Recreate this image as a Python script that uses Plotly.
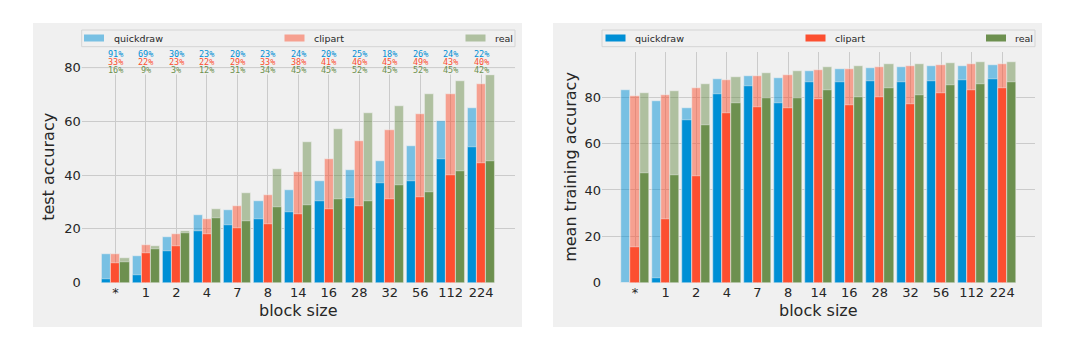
import plotly.graph_objects as go

# block sizes on the x axis
block_sizes = ['*', '1', '2', '4', '7', '8', '14', '16', '28', '32', '56', '112', '224']
domains = ['quickdraw', 'clipart', 'real']

# left panel: test accuracy (light = upper bar, dark = lower bar)
test_quickdraw_hi = [10.8, 9.8, 16.9, 25.2, 26.9, 30.5, 34.5, 37.9, 41.9, 45.1, 50.8, 60.1, 64.8]
test_quickdraw_lo = [1.4, 3.0, 11.9, 19.3, 21.4, 23.7, 26.3, 30.5, 31.6, 37.0, 37.7, 45.9, 50.6]
test_clipart_hi = [10.8, 14.0, 18.0, 23.7, 28.4, 32.6, 41.2, 45.9, 52.7, 56.7, 62.7, 70.1, 73.8]
test_clipart_lo = [7.3, 11.2, 13.6, 18.2, 20.4, 21.8, 25.5, 27.3, 28.4, 31.1, 31.9, 39.9, 44.5]
test_real_hi = [9.1, 13.5, 19.1, 27.3, 33.3, 42.3, 52.2, 57.0, 63.3, 65.8, 70.1, 74.9, 77.2]
test_real_lo = [7.7, 12.6, 18.4, 24.1, 23.0, 28.0, 29.0, 31.1, 30.5, 36.2, 33.7, 41.5, 45.1]

# percentage labels above the left panel
pct_quickdraw = [91, 69, 30, 23, 20, 23, 24, 20, 25, 18, 26, 24, 22]
pct_clipart = [33, 22, 23, 22, 29, 33, 38, 41, 46, 45, 49, 43, 40]
pct_real = [16, 9, 3, 12, 31, 34, 45, 45, 52, 45, 52, 45, 42]

# right panel: mean training accuracy
train_quickdraw_hi = [83.0, 78.4, 75.5, 87.9, 89.2, 88.5, 91.3, 92.2, 92.6, 93.1, 93.5, 93.5, 93.9]
train_quickdraw_lo = [0.0, 2.2, 70.2, 81.4, 84.7, 77.7, 86.5, 86.5, 86.9, 86.5, 87.2, 87.6, 88.0]
train_clipart_hi = [80.6, 80.9, 83.9, 87.6, 89.2, 89.6, 91.8, 92.2, 93.1, 93.5, 93.9, 94.4, 94.4]
train_clipart_lo = [15.4, 27.5, 46.2, 73.1, 75.9, 75.5, 79.4, 76.8, 80.1, 77.1, 81.9, 83.2, 83.9]
train_real_hi = [81.7, 82.7, 85.6, 88.8, 90.5, 91.3, 93.1, 93.5, 94.4, 94.4, 94.8, 95.1, 95.1]
train_real_lo = [47.3, 46.5, 68.0, 77.7, 79.7, 79.7, 83.2, 80.1, 83.9, 81.0, 85.2, 85.6, 86.5]

colors = ['#008fd5', '#fc4f30', '#6d904f']
light = ['rgba(0,143,213,0.5)', 'rgba(252,79,48,0.5)', 'rgba(109,144,79,0.5)']
BG = '#f0f0f0'
GRID = '#cbcbcb'
TXT = '#262626'
W, H = 1080, 343


def px(x):
    return x / W


def py(y):
    return 1 - y / H


idx = list(range(len(block_sizes)))
offsets = [-0.3, 0.0, 0.3]

fig = go.Figure()

panels = [
    ('x', 'y', [test_quickdraw_hi, test_clipart_hi, test_real_hi],
     [test_quickdraw_lo, test_clipart_lo, test_real_lo]),
    ('x2', 'y2', [train_quickdraw_hi, train_clipart_hi, train_real_hi],
     [train_quickdraw_lo, train_clipart_lo, train_real_lo]),
]

for xa, ya, his, los in panels:
    for k in range(3):
        xs = [i + offsets[k] for i in idx]
        fig.add_trace(go.Bar(x=xs, y=his[k], width=0.3, xaxis=xa, yaxis=ya,
                             marker=dict(color=light[k], line=dict(color=BG, width=0.5)),
                             name=domains[k], showlegend=False))
        fig.add_trace(go.Bar(x=xs, y=los[k], width=0.3, xaxis=xa, yaxis=ya,
                             marker=dict(color=colors[k], line=dict(color=BG, width=0.5)),
                             name=domains[k], showlegend=False))

LEFT_X = (81.7, 515)
RIGHT_X = (602, 1035)
Y_BOT, Y_TOP = 282.7, 52

# panel backgrounds
shapes = [
    dict(type='rect', xref='paper', yref='paper', x0=px(33), x1=px(522), y0=py(327), y1=py(23),
         fillcolor=BG, line=dict(width=0), layer='below'),
    dict(type='rect', xref='paper', yref='paper', x0=px(553), x1=px(1042), y0=py(327), y1=py(23),
         fillcolor=BG, line=dict(width=0), layer='below'),
    # band behind the percentage labels hides the vertical grid, then the 80 gridline again
    dict(type='rect', xref='paper', yref='paper', x0=px(LEFT_X[0]), x1=px(LEFT_X[1]),
         y0=py(74.5), y1=py(50), fillcolor=BG, line=dict(width=0), layer='above'),
    dict(type='line', xref='paper', yref='y', x0=px(LEFT_X[0]), x1=px(LEFT_X[1]),
         y0=80, y1=80, line=dict(color=GRID, width=1), layer='above'),
]
annotations = []

# hand-made legends (matplotlib style, expanded over the axes)
legends = [
    (LEFT_X, [84, 284.5, 465.5], [112, 311.5, 492.5], light),
    (RIGHT_X, [605.5, 805.5, 986], [633, 832.5, 1012.5], colors),
]
for (x0, x1), patch_x, text_x, cols in legends:
    shapes.append(dict(type='rect', xref='paper', yref='paper', x0=px(x0), x1=px(x1),
                       y0=py(46.7), y1=py(30), fillcolor=BG, line=dict(color='#d4d4d4', width=1)))
    for k in range(3):
        shapes.append(dict(type='rect', xref='paper', yref='paper', x0=px(patch_x[k]),
                           x1=px(patch_x[k] + 20), y0=py(41.5), y1=py(34.5),
                           fillcolor=cols[k], line=dict(width=0)))
        annotations.append(dict(x=px(text_x[k]), y=py(38.2), xref='paper', yref='paper',
                                text=domains[k], showarrow=False, xanchor='left', yanchor='middle',
                                font=dict(family='DejaVu Sans', size=9.5, color=TXT)))

# percentage labels
for vals, col, ypix in zip([pct_quickdraw, pct_clipart, pct_real], colors, [54, 62, 70]):
    for i in idx:
        annotations.append(dict(x=i, y=py(ypix), xref='x', yref='paper', text=f'{vals[i]}%',
                                showarrow=False, xanchor='center', yanchor='middle',
                                font=dict(family='DejaVu Sans Mono', size=8.5, color=col)))

# axis titles
title_font = dict(family='DejaVu Sans', size=16, color=TXT)
y_mid = (Y_BOT + Y_TOP) / 2
for text, x, y, angle in [('block size', (LEFT_X[0] + LEFT_X[1]) / 2, 310.7, 0),
                          ('block size', (RIGHT_X[0] + RIGHT_X[1]) / 2, 310.7, 0),
                          ('test accuracy', 48.5, y_mid, -90),
                          ('mean training accuracy', 570.5, y_mid, -90)]:
    annotations.append(dict(x=px(x), y=py(y), xref='paper', yref='paper', text=text,
                            textangle=angle, showarrow=False, xanchor='center', yanchor='middle',
                            font=title_font))

fig.update_layout(shapes=shapes, annotations=annotations)

axis_common = dict(showgrid=True, gridcolor=GRID, gridwidth=1, zeroline=False, automargin=False,
                   showline=False, ticks='', tickfont=dict(family='DejaVu Sans', size=13, color=TXT))

y_dom = [py(Y_BOT), py(Y_TOP)]
fig.update_layout(
    width=W, height=H,
    margin=dict(l=0, r=0, t=0, b=0),
    paper_bgcolor='white',
    plot_bgcolor=BG,
    barmode='overlay',
    bargap=0,
    showlegend=False,
    xaxis=dict(axis_common, domain=[px(LEFT_X[0]), px(LEFT_X[1])], range=[-1.11, 13.11],
               tickvals=idx, ticktext=block_sizes, anchor='y'),
    yaxis=dict(axis_common, domain=y_dom, range=[0, 85.8], dtick=20, anchor='x'),
    xaxis2=dict(axis_common, domain=[px(RIGHT_X[0]), px(RIGHT_X[1])], range=[-1.08, 13.07],
                tickvals=idx, ticktext=block_sizes, anchor='y2'),
    yaxis2=dict(axis_common, domain=y_dom, range=[0, 99.5], dtick=20, anchor='x2'),
)

fig.write_html("out.html", config={'displayModeBar': False},
               post_script="document.body.style.margin = '0';")
